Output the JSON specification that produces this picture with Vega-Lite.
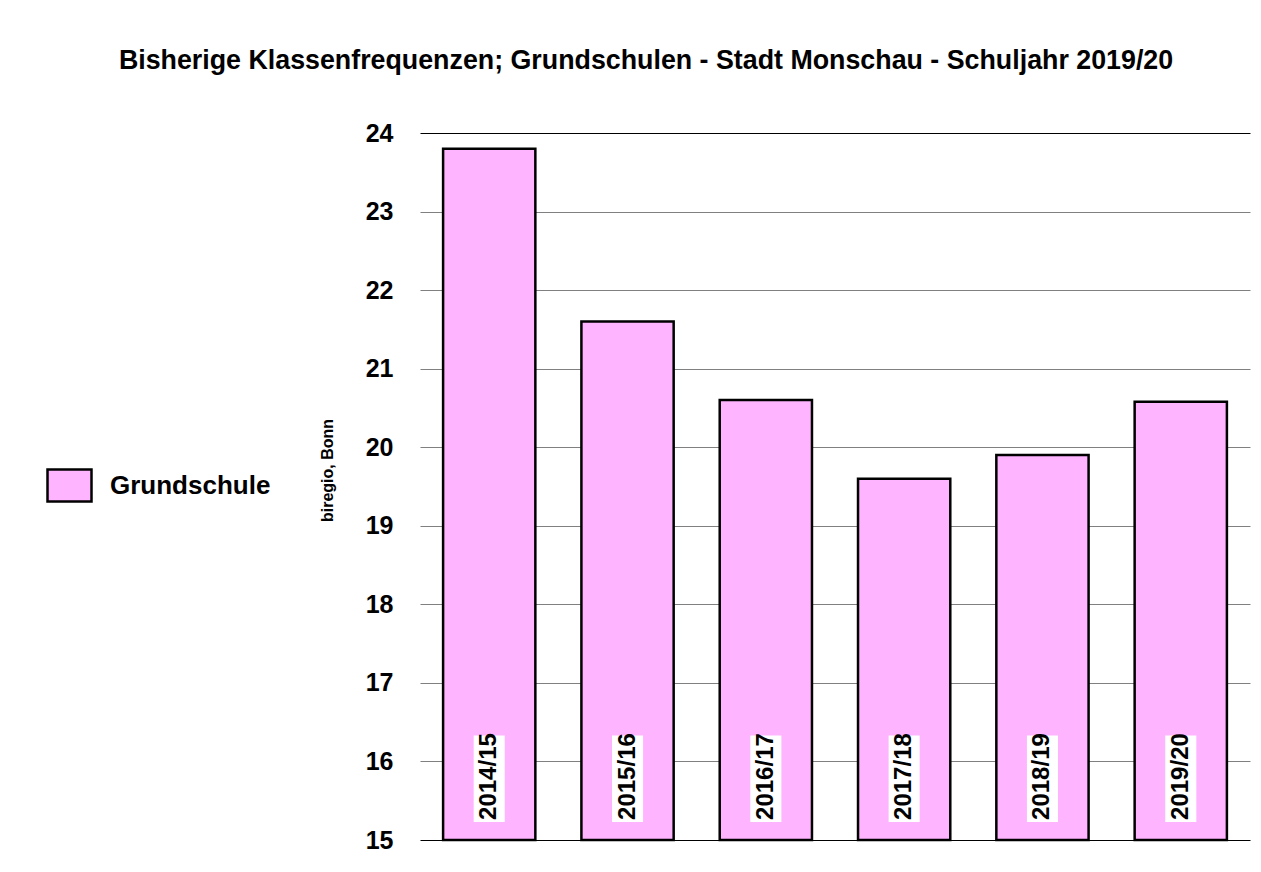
{
  "$schema": "https://vega.github.io/schema/vega-lite/v6.json",
  "width": 830,
  "height": 707,
  "autosize": {"type": "none"},
  "padding": {"left": 420, "top": 133, "right": 11, "bottom": 32},
  "background": "white",
  "config": {
    "font": "Liberation Sans",
    "view": {"stroke": null}
  },
  "title": {
    "text": "Bisherige Klassenfrequenzen; Grundschulen - Stadt Monschau - Schuljahr 2019/20",
    "font": "Liberation Sans",
    "fontSize": 26.8,
    "fontWeight": "bold",
    "color": "black",
    "anchor": "middle",
    "baseline": "alphabetic",
    "offset": 25,
    "dx": -189
  },
  "data": {
    "values": [
      {"year": "2014/15", "value": 23.8, "series": "Grundschule"},
      {"year": "2015/16", "value": 21.6, "series": "Grundschule"},
      {"year": "2016/17", "value": 20.6, "series": "Grundschule"},
      {"year": "2017/18", "value": 19.6, "series": "Grundschule"},
      {"year": "2018/19", "value": 19.9, "series": "Grundschule"},
      {"year": "2019/20", "value": 20.58, "series": "Grundschule"}
    ]
  },
  "encoding": {
    "x": {
      "field": "year",
      "type": "nominal",
      "sort": null,
      "axis": null,
      "scale": {"paddingInner": 0.333, "paddingOuter": 0.167}
    }
  },
  "layer": [
    {
      "mark": {"type": "bar", "stroke": "black", "strokeWidth": 2.5},
      "encoding": {
        "y": {
          "field": "value",
          "type": "quantitative",
          "scale": {"domain": [15, 24], "zero": false, "nice": false},
          "axis": {
            "values": [15, 16, 17, 18, 19, 20, 21, 22, 23, 24],
            "format": "d",
            "title": "biregio, Bonn",
            "titleFont": "Liberation Sans",
            "titleFontSize": 16,
            "titleFontWeight": "bold",
            "titleColor": "black",
            "titleX": -85,
            "titleY": 337,
            "labelFont": "Liberation Sans",
            "labelFontSize": 25,
            "labelFontWeight": "bold",
            "labelColor": "black",
            "labelPadding": 27,
            "ticks": false,
            "domain": false,
            "grid": true,
            "gridColor": {
              "condition": {"test": "datum.value == 15 || datum.value == 24", "value": "black"},
              "value": "#808080"
            },
            "gridWidth": 1.2,
            "gridOpacity": 1
          }
        },
        "y2": {"datum": 15},
        "fill": {
          "field": "series",
          "type": "nominal",
          "scale": {"range": ["#FFB4FF"]},
          "legend": {
            "title": null,
            "orient": "none",
            "legendX": -374,
            "legendY": 329,
            "padding": 0,
            "symbolType": "M-1,-0.727L1,-0.727L1,0.727L-1,0.727Z",
            "symbolSize": 1936,
            "symbolStrokeColor": "black",
            "symbolStrokeWidth": 2.5,
            "labelFont": "Liberation Sans",
            "labelFontSize": 26,
            "labelFontWeight": "bold",
            "labelColor": "black",
            "labelOffset": 17,
            "labelLimit": 400
          }
        }
      }
    },
    {
      "mark": {"type": "bar", "fill": "white", "width": {"band": 0.337}},
      "encoding": {
        "y": {"datum": 15.23},
        "y2": {"datum": 16.33}
      }
    },
    {
      "mark": {
        "type": "text",
        "angle": 270,
        "align": "left",
        "baseline": "middle",
        "font": "Liberation Sans",
        "fontSize": 24,
        "fontWeight": "bold",
        "color": "black",
        "dx": 2
      },
      "encoding": {
        "text": {"field": "year"},
        "y": {"datum": 15.23}
      }
    }
  ]
}
